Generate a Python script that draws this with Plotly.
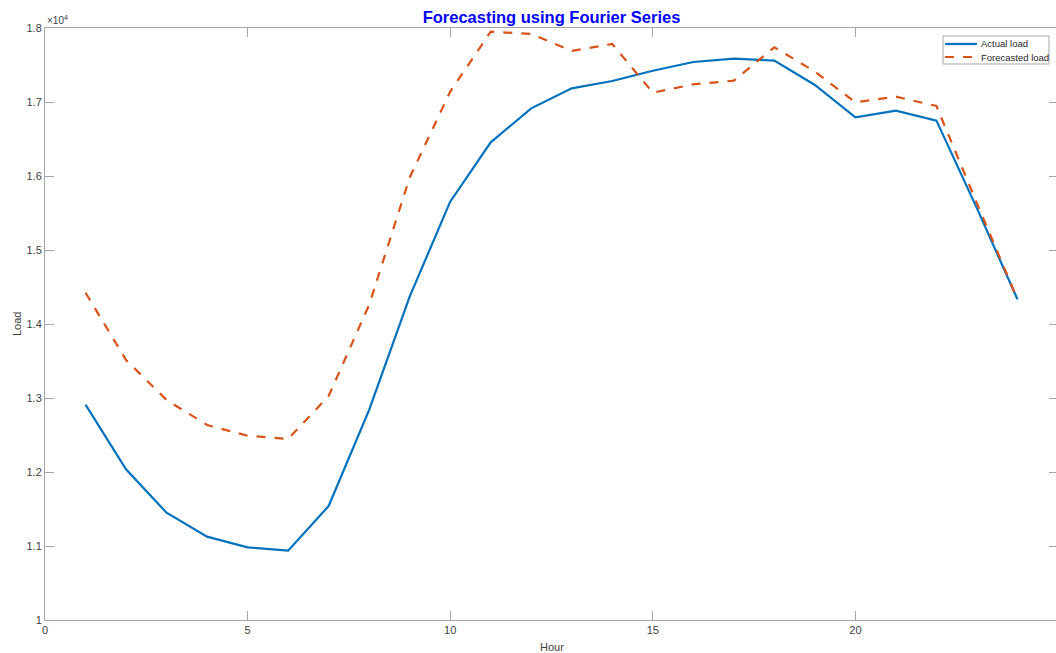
import plotly.graph_objects as go

hours = list(range(1, 25))
actual_load = [12910, 12036, 11450, 11126, 10982, 10937, 11540, 12840,
               14370, 15653, 16455, 16914, 17185, 17284, 17423, 17541,
               17586, 17559, 17230, 16793, 16883, 16748, 15563, 14333]
forecast_load = [14423, 13514, 12973, 12635, 12490, 12446, 13027, 14260,
                 15980, 17140, 17950, 17919, 17690, 17784, 17126, 17239,
                 17288, 17739, 17410, 16996, 17072, 16946, 15631, 14333]
series_names = ["Actual load", "Forecasted load"]
y_tickvals = [10000, 11000, 12000, 13000, 14000, 15000, 16000, 17000, 18000]
y_ticktext = ["1", "1.1", "1.2", "1.3", "1.4", "1.5", "1.6", "1.7", "1.8"]
x_tickvals = [0, 5, 10, 15, 20, 25]

font = "Liberation Sans, Arial, Helvetica, sans-serif"
axis_col = "#a6a6a6"
txt_col = "#404040"
colors = ["#0072BD", "#D95319"]
dashes = ["solid", "dash"]

fig = go.Figure()
fig.add_trace(go.Scatter(x=hours, y=actual_load, mode="lines", name=series_names[0],
                         line=dict(color=colors[0], width=2.2), showlegend=False))
fig.add_trace(go.Scatter(x=hours, y=forecast_load, mode="lines", name=series_names[1],
                         line=dict(color=colors[1], width=2.2, dash="dash"), showlegend=False))

fig.update_layout(
    width=1064, height=653,
    margin=dict(l=45, r=6, t=28, b=33),
    paper_bgcolor="white", plot_bgcolor="white",
    font=dict(family=font, size=11, color=txt_col),
    title=dict(text="<b>Forecasting using Fourier Series</b>", xref="paper", x=0.5,
               xanchor="center", yref="container", y=0.974, yanchor="middle",
               font=dict(family=font, size=16.5, color="#0000FF")),
    showlegend=False,
)
fig.update_xaxes(range=[0, 25], tickvals=x_tickvals, ticks="inside", ticklen=9,
                 tickcolor=axis_col, showline=True, linecolor=axis_col, linewidth=1,
                 mirror="ticks", showgrid=False, zeroline=False,
                 tickfont=dict(family=font, size=11, color=txt_col))
fig.update_yaxes(range=[10000, 18000], tickvals=y_tickvals, ticktext=y_ticktext,
                 ticks="inside", ticklen=9, tickcolor=axis_col, showline=True,
                 linecolor=axis_col, linewidth=1, mirror="ticks", showgrid=False,
                 zeroline=False, tickfont=dict(family=font, size=11, color=txt_col))

fig.add_annotation(text="Hour", xref="paper", yref="paper", x=0.5, y=-0.0456,
                   xanchor="center", yanchor="middle", showarrow=False,
                   font=dict(family=font, size=11, color=txt_col))
fig.add_annotation(text="Load", xref="paper", yref="paper", x=-0.0276, y=0.5,
                   xanchor="center", yanchor="middle", textangle=-90, showarrow=False,
                   font=dict(family=font, size=11, color=txt_col))
fig.add_annotation(text="×10<sup>4</sup>", xref="paper", yref="paper", x=0.0, y=1.0,
                   xanchor="left", yanchor="bottom", showarrow=False,
                   font=dict(family=font, size=10, color=txt_col))

# custom compact legend (MATLAB style)
fig.add_shape(type="rect", xref="paper", yref="paper", x0=0.8865, x1=0.9911,
              y0=0.9392, y1=0.9865, line=dict(color="#a6a6a6", width=1),
              fillcolor="white", layer="above")
row_y = [0.9730, 0.9510]
for name, col, dsh, ry in zip(series_names, colors, dashes, row_y):
    fig.add_shape(type="line", xref="paper", yref="paper", x0=0.8885, x1=0.9200,
                  y0=ry, y1=ry, line=dict(color=col, width=2.2, dash=dsh), layer="above")
    fig.add_annotation(text=name, xref="paper", yref="paper", x=0.9225, y=ry,
                       xanchor="left", yanchor="middle", showarrow=False,
                       font=dict(family=font, size=9.5, color="#262626"))

fig.write_html(
    "out.html",
    config={"displayModeBar": False},
    post_script="document.body.style.margin='0';"
                "document.documentElement.style.overflow='hidden';",
)
